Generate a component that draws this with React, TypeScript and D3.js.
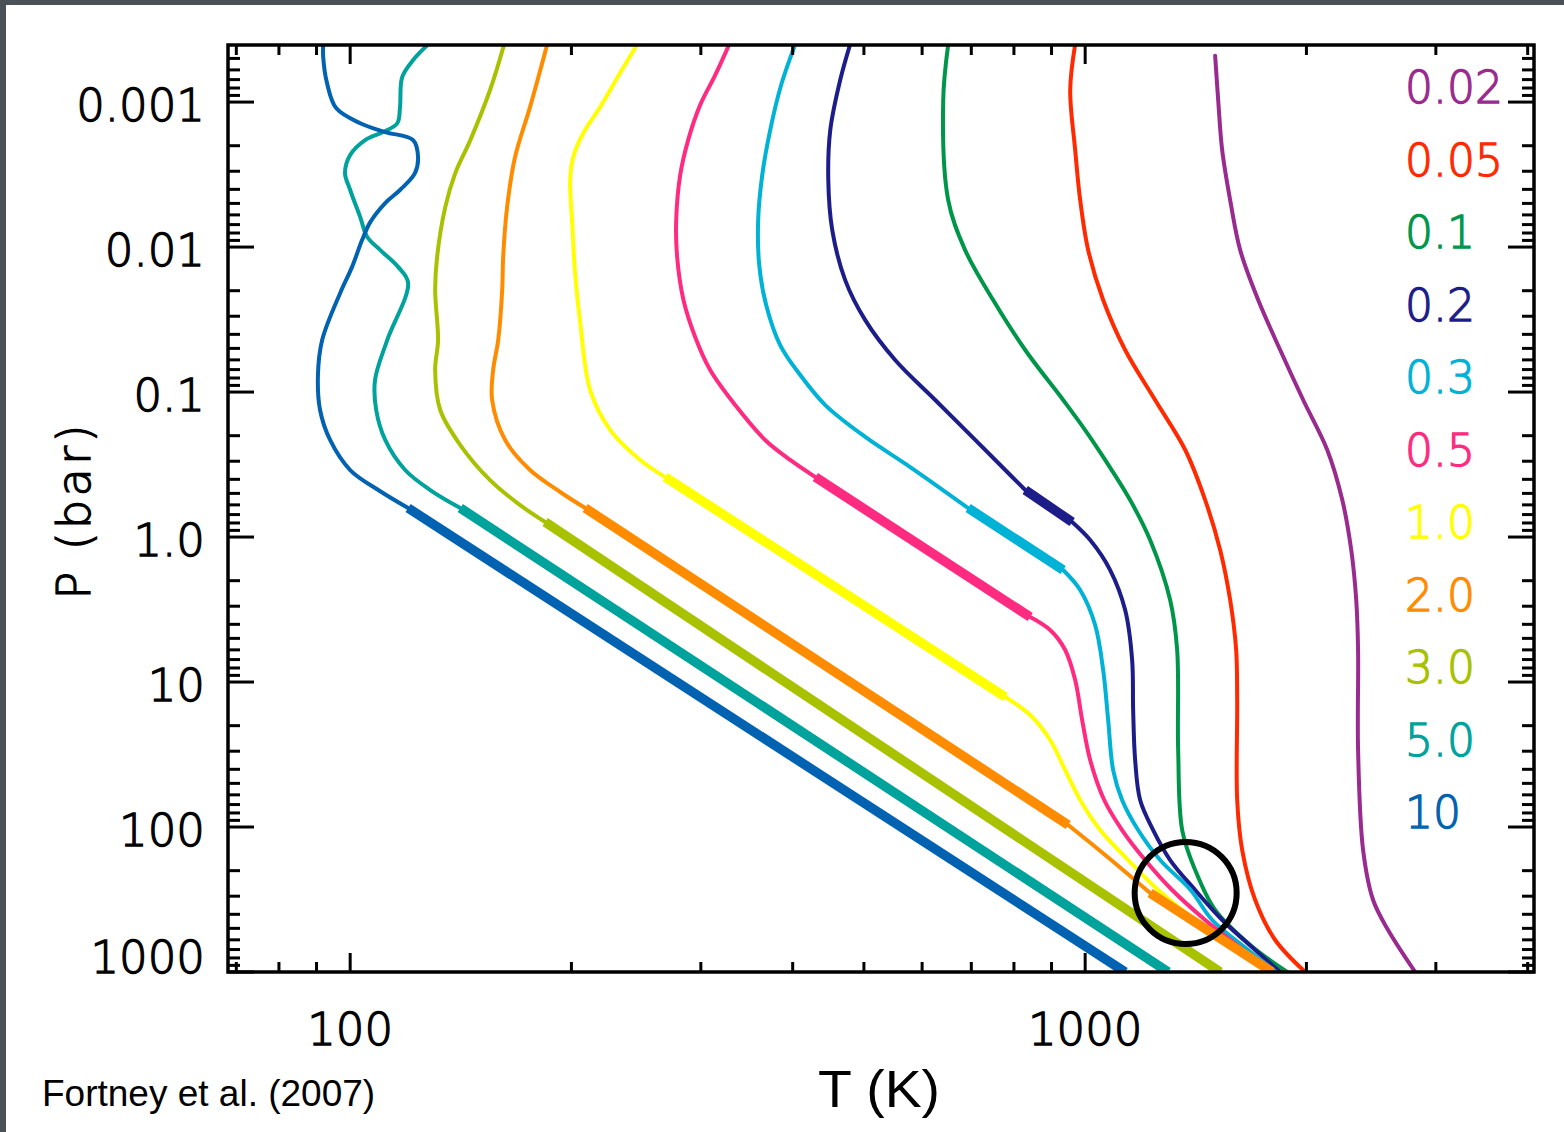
import React from 'react';
import * as d3 from 'd3';

type Pt = [number, number]; // [T (K), P (bar)]

// ---------- data ----------
const massLabels = ['0.02', '0.05', '0.1', '0.2', '0.3', '0.5', '1.0', '2.0', '3.0', '5.0', '10'];
const massColors = ['#9a2b8e', '#ff2a00', '#00964a', '#1d1d8a', '#00b2d6', '#ff2b80', '#ffff00', '#ff8c00', '#a8c100', '#00a29c', '#0062b0'];

const profile002: Pt[] = [[1502.6, 4.8e-4], [1517, 9.69e-4], [1536, 2.14e-3], [1575, 4.74e-3], [1625.3, 1.05e-2], [1719.6, 2.32e-2], [1842.3, 5.13e-2], [1980, 0.1135], [2135, 0.251], [2238, 0.556], [2301.5, 1.229], [2337.8, 2.72], [2351.3, 6.01], [2351.3, 29.4], [2388.6, 144.2], [2464.6, 318.7], [2583, 513.3], [2812, 1000]];
const profile005: Pt[] = [[969.2, 4.0e-4], [954.2, 8.26e-4], [969.2, 2.14e-3], [984.5, 4.74e-3], [1009.5, 1.05e-2], [1058, 2.32e-2], [1133.5, 5.13e-2], [1245.1, 0.1135], [1368.3, 0.251], [1456.5, 0.556], [1526.4, 1.229], [1575, 2.72], [1604.8, 6.01], [1610, 13.31], [1610, 65.1], [1635.5, 144.2], [1703.5, 318.7], [1813.6, 601.6], [1992.3, 1000]];
const profile01: Pt[] = [[651.1, 4.0e-4], [641.0, 9.69e-4], [651.1, 4.74e-3], [686.6, 1.05e-2], [749.6, 2.32e-2], [828.8, 5.13e-2], [933.4, 0.1135], [1000, 0.183], [1064.6, 0.294], [1151.3, 0.556], [1225.7, 1.049], [1305, 2.72], [1334, 6.01], [1338.2, 29.4], [1355.2, 104.9], [1411.5, 198], [1502.6, 373.6], [1677, 651.2], [1883, 1000]];
const profile02: Pt[] = [[478.9, 4.0e-4], [464.2, 7.05e-4], [450, 1.56e-3], [447.2, 3.45e-3], [452.8, 7.64e-3], [471.5, 1.69e-2], [502.1, 3.19e-2], [551.4, 6.01e-2], [625.2, 0.1135], [708.6, 0.214], [778.5, 0.345], [828.8, 0.474], [960, 0.788], [1015.8, 1.049], [1081.4, 1.689], [1133.5, 3.19], [1158.5, 7.05], [1162.2, 15.6], [1169.5, 34.5], [1187.9, 65.1], [1237.4, 104.9], [1305, 168.9], [1411.5, 272], [1536.2, 437.9], [1703.5, 705], [1842.3, 1000]];
const profile03: Pt[] = [[403.2, 4.0e-4], [385.8, 7.63e-4], [372.8, 1.56e-3], [363.6, 3.19e-3], [359.0, 6.52e-3], [360.2, 1.33e-2], [368.1, 2.51e-2], [384.6, 4.74e-2], [409.6, 7.63e-2], [443.0, 0.123], [502.1, 0.204], [578.0, 0.329], [693.1, 0.631], [933.4, 1.689], [984.5, 2.32], [1031.8, 4.05], [1058, 8.26], [1074.7, 18.29], [1091.6, 40.5], [1122.6, 65.1], [1180.5, 104.9], [1264.7, 168.9], [1391.4, 272], [1488.8, 437.9], [1666.7, 705], [1819.5, 1000]];
const profile05: Pt[] = [[327.9, 4.0e-4], [313.8, 6.52e-4], [299.3, 1.05e-3], [288.3, 1.83e-3], [281.2, 3.19e-3], [277.7, 6.52e-3], [278.5, 1.17e-2], [284.1, 2.32e-2], [294.7, 4.17e-2], [308.9, 7.05e-2], [334.1, 0.123], [366.9, 0.214], [396.9, 0.294], [429.4, 0.386], [841.8, 3.56], [896.1, 4.38], [939.3, 6.01], [969.2, 9.69], [990.6, 18.29], [1015.8, 34.5], [1061.4, 65.1], [1122.6, 104.9], [1206.5, 168.9], [1313.2, 272], [1456.5, 437.9], [1640.6, 705], [1796.6, 1000]];
const profile10: Pt[] = [[245.8, 4.0e-4], [232.9, 6.31e-4], [218.9, 1.08e-3], [207.5, 1.64e-3], [201.1, 2.40e-3], [199.2, 3.45e-3], [200.5, 6.83e-3], [202.3, 1.51e-2], [205.6, 3.34e-2], [212.1, 9.69e-2], [225.9, 0.183], [248.1, 0.294], [268.3, 0.386], [778.5, 12.69], [841.8, 16.89], [896.1, 25.1], [939.3, 40.5], [984.5, 65.1], [1048.1, 104.9], [1144.1, 168.9], [1257, 272], [1411.5, 437.9], [1615.3, 705], [1774.2, 1000]];
const profile20: Pt[] = [[185.4, 4.0e-4], [175.7, 1.08e-3], [167.6, 2.40e-3], [163.5, 5.30e-3], [161.5, 1.17e-2], [161.0, 1.98e-2], [159.0, 4.38e-2], [156.5, 7.05e-2], [156.0, 0.1135], [162.5, 0.214], [175.7, 0.345], [193.1, 0.489], [208.8, 0.631], [948.2, 96.9], [1064.6, 156], [1225.7, 285.2], [1796.6, 1000]];
const profile30: Pt[] = [[162.0, 4.0e-4], [155.0, 8.26e-4], [145.7, 1.83e-3], [139.0, 3.09e-3], [134.7, 5.30e-3], [131.3, 1.17e-2], [130.5, 1.98e-2], [131.7, 4.38e-2], [130.5, 7.05e-2], [132.6, 0.133], [141.2, 0.232], [155.0, 0.405], [170.3, 0.602], [184.2, 0.788], [1526.4, 1000]];
const profile50: Pt[] = [[127.7, 4.0e-4], [121.8, 5.13e-4], [117.7, 6.73e-4], [116.9, 1.08e-3], [115.9, 1.40e-3], [110.9, 1.61e-3], [104.8, 1.83e-3], [100, 2.32e-3], [98.4, 3.09e-3], [100, 4.04e-3], [103.2, 6.21e-3], [105.5, 8.53e-3], [109.9, 1.05e-2], [116.2, 1.37e-2], [119.9, 1.77e-2], [112.3, 4.38e-2], [108.1, 8.26e-2], [108.5, 0.133], [111.6, 0.214], [118.8, 0.345], [128.5, 0.474], [141.2, 0.631], [1296.9, 1000]];
const profile100: Pt[] = [[91.9, 4.0e-4], [91.9, 4.9e-4], [93.0, 7.4e-4], [95.7, 1.1e-3], [103.2, 1.4e-3], [111.6, 1.61e-3], [121.8, 1.83e-3], [123.7, 2.4e-3], [122.5, 3.09e-3], [116.9, 4.04e-3], [111.6, 4.97e-3], [106.5, 6.73e-3], [103.8, 8.95e-3], [100.6, 1.37e-2], [96.9, 2.08e-2], [91.6, 4.38e-2], [90.4, 7.6e-2], [91.0, 0.133], [93.9, 0.214], [100, 0.345], [109.2, 0.474], [119.9, 0.631], [1133.5, 1000]];

// convective (thick) pressure ranges, in bar
const thick002: Pt[] = [];
const thick005: Pt[] = [];
const thick01: Pt[] = [];
const thick02: Pt[] = [[0.474, 0.788]];
const thick03: Pt[] = [[0.631, 1.689]];
const thick05: Pt[] = [[0.386, 3.56]];
const thick10: Pt[] = [[0.386, 12.69]];
const thick20: Pt[] = [[0.631, 96.9], [285.2, 1000]];
const thick30: Pt[] = [[0.788, 1000]];
const thick50: Pt[] = [[0.631, 1000]];
const thick100: Pt[] = [[0.631, 1000]];

const profiles = [profile002, profile005, profile01, profile02, profile03, profile05, profile10, profile20, profile30, profile50, profile100];
const thickRanges = [thick002, thick005, thick01, thick02, thick03, thick05, thick10, thick20, thick30, thick50, thick100];

const yTickValues = [0.001, 0.01, 0.1, 1, 10, 100, 1000];
const yTickLabels = ['0.001', '0.01', '0.1', '1.0', '10', '100', '1000'];
const xTickValues = [100, 1000];
const xTickLabels = ['100', '1000'];

const circleCenter: Pt = [1370, 285];

const T_DOMAIN: [number, number] = [68.2, 4080];
const P_DOMAIN: [number, number] = [4.04e-4, 1000];

// ---------- layout ----------
const W = 1564, H = 1132;
const L = 228, R = 1534, TOP = 45, BOT = 972;

const x = d3.scaleLog().domain(T_DOMAIN).range([L, R]);
const y = d3.scaleLog().domain(P_DOMAIN).range([TOP, BOT]);

const smooth = d3.line<Pt>().x(d => x(d[0])).y(d => y(d[1])).curve(d3.curveCatmullRom.alpha(0.5));
const straight = d3.line<Pt>().x(d => x(d[0])).y(d => y(d[1]));

function split(points: Pt[], ranges: Pt[]) {
  const segs: { thick: boolean; pts: Pt[] }[] = [];
  let cur: { thick: boolean; pts: Pt[] } | null = null;
  for (let i = 0; i < points.length - 1; i++) {
    const a = points[i], b = points[i + 1];
    const thick = ranges.some(([lo, hi]) => a[1] >= lo * 0.999 && b[1] <= hi * 1.001);
    if (!cur || cur.thick !== thick) {
      cur = { thick, pts: [a] };
      segs.push(cur);
    }
    cur.pts.push(b);
  }
  return segs;
}

function logTicks(domain: [number, number]) {
  const out: { v: number; major: boolean }[] = [];
  const e0 = Math.floor(Math.log10(domain[0]));
  const e1 = Math.ceil(Math.log10(domain[1]));
  for (let e = e0; e <= e1; e++) {
    for (let k = 1; k <= 9; k++) {
      const v = k * Math.pow(10, e);
      if (v >= domain[0] * 0.9999 && v <= domain[1] * 1.0001) out.push({ v, major: k === 1 });
    }
  }
  return out;
}

const xTicks = logTicks(T_DOMAIN);
const yTicks = logTicks(P_DOMAIN);

const GOTHIC = '"DejaVu Sans", sans-serif';
const HELV = '"Liberation Sans", Arial, sans-serif';

export default function App() {
  return (
    <div style={{ position: 'absolute', left: 0, top: 0 }}>
      <svg width={W} height={H} style={{ display: 'block' }}>
        <rect x={0} y={0} width={W} height={H} fill="#ffffff" />
        <rect x={0} y={0} width={W} height={5} fill="#4a5257" />
        <rect x={0} y={0} width={6} height={H} fill="#4a5257" />
        <defs>
          <clipPath id="plotClip">
            <rect x={L} y={TOP} width={R - L} height={BOT - TOP} />
          </clipPath>
        </defs>

        <g clipPath="url(#plotClip)">
          {profiles.map((prof, i) =>
            split(prof, thickRanges[i]).map((s, j) => (
              <path
                key={`${i}-${j}`}
                d={(s.thick ? straight(s.pts) : smooth(s.pts)) || ''}
                fill="none"
                stroke={massColors[i]}
                strokeWidth={s.thick ? 9.5 : 4}
                strokeLinejoin="round"
                strokeLinecap={s.thick ? 'butt' : 'round'}
              />
            ))
          )}
        </g>

        <circle cx={x(circleCenter[0])} cy={y(circleCenter[1])} r={51} fill="none" stroke="#000" strokeWidth={6} />

        {/* ticks */}
        <g stroke="#000" strokeWidth={3}>
          {xTicks.map((t, i) => {
            const px = x(t.v);
            const len = t.major ? 19 : 10;
            return (
              <g key={`xt${i}`}>
                <line x1={px} x2={px} y1={BOT} y2={BOT - len} />
                <line x1={px} x2={px} y1={TOP} y2={TOP + len} />
              </g>
            );
          })}
          {yTicks.map((t, i) => {
            const py = y(t.v);
            const len = t.major ? 26 : 12;
            return (
              <g key={`yt${i}`}>
                <line x1={L} x2={L + len} y1={py} y2={py} />
                <line x1={R} x2={R - len} y1={py} y2={py} />
              </g>
            );
          })}
        </g>
        <rect x={L} y={TOP} width={R - L} height={BOT - TOP} fill="none" stroke="#000" strokeWidth={3.5} />

        {/* tick labels */}
        <g fontFamily={GOTHIC} fontWeight={300} fontSize={45} fill="#000" stroke="#000" strokeWidth={1.3}>
          {yTickValues.map((v, i) => (
            <text key={`yl${i}`} x={205} y={y(v) + (v === 1000 ? 1 : 19)} textAnchor="end">
              {yTickLabels[i]}
            </text>
          ))}
          {xTickValues.map((v, i) => (
            <text key={`xl${i}`} x={x(v)} y={1045} textAnchor="middle">
              {xTickLabels[i]}
            </text>
          ))}
        </g>

        {/* legend */}
        <g fontFamily={GOTHIC} fontWeight={300} fontSize={44} strokeWidth={1.3}>
          {massLabels.map((m, i) => (
            <text key={`lg${i}`} x={1405} y={103 + 72.5 * i} fill={massColors[i]} stroke={massColors[i]}>
              {m}
            </text>
          ))}
        </g>

        {/* axis titles */}
        <text
          transform="translate(90,512) rotate(-90)"
          textAnchor="middle"
          fontFamily={GOTHIC}
          fontWeight={300}
          fontSize={46}
          stroke="#000"
          strokeWidth={1.3}
          textLength={175}
          lengthAdjust="spacing"
        >
          P (bar)
        </text>
        <text
          x={818}
          y={1107}
          fontFamily={HELV}
          fontSize={52}
          textLength={122}
          lengthAdjust="spacingAndGlyphs"
        >
          T (K)
        </text>
        <text x={42} y={1106} fontFamily={HELV} fontSize={37} fill="#000">
          Fortney et al. (2007)
        </text>
      </svg>
    </div>
  );
}
